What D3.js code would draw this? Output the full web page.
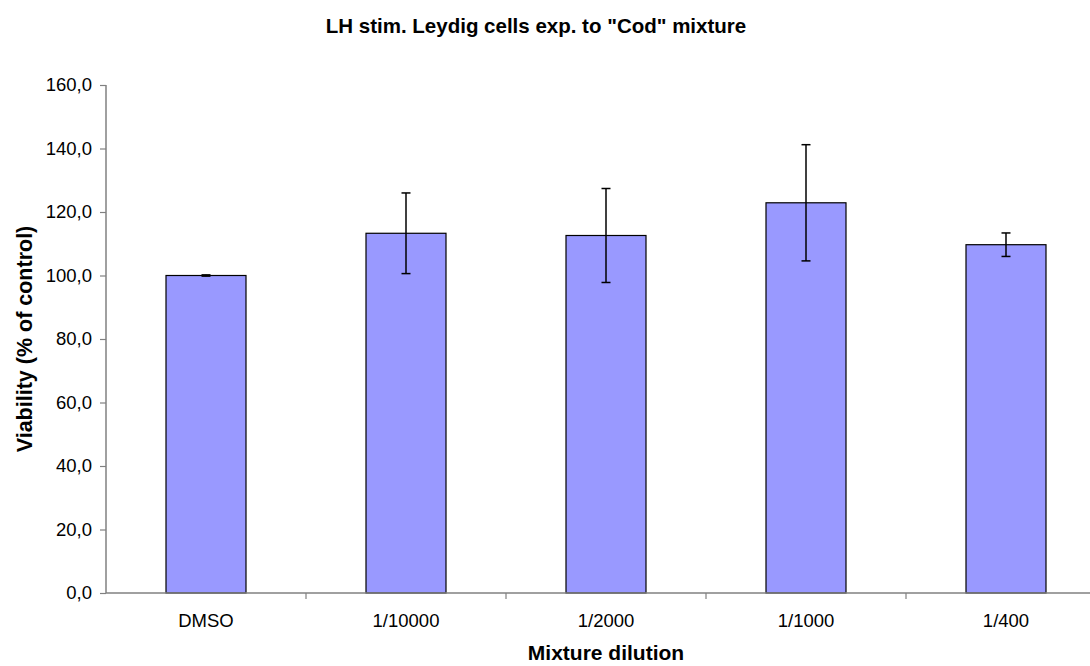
<!DOCTYPE html>
<html>
<head>
<meta charset="utf-8">
<script src="https://cdn.jsdelivr.net/npm/d3@7"></script>
<style>
  html, body { margin: 0; padding: 0; background: #fff; }
  svg { display: block; font-family: "Liberation Sans", Arial, sans-serif; }
</style>
</head>
<body>
<svg id="chart" width="1090" height="666"></svg>
<script>
const categories = ["DMSO", "1/10000", "1/2000", "1/1000", "1/400"];
const values = [100.0, 113.3, 112.6, 122.9, 109.7];
const errors = [0.2, 12.7, 14.8, 18.3, 3.7];
const yTicks = [0, 20, 40, 60, 80, 100, 120, 140, 160];
const title = 'LH stim. Leydig cells exp. to "Cod" mixture';
const xTitle = "Mixture dilution";
const yTitle = "Viability (% of control)";

(function () {
const svg = d3.select("#chart");
const pL = 106, pR = 1106, pT = 85, pB = 593;

const x = d3.scaleBand().domain(categories).range([pL, pR])
  .paddingInner(0.6).paddingOuter(0.3);
const y = d3.scaleLinear().domain([0, 160]).range([pB, pT]);
const fmt = v => d3.format(".1f")(v).replace(".", ",");

// Title
svg.append("text").attr("x", 536).attr("y", 33).attr("text-anchor", "middle")
  .attr("font-size", 20.5).attr("font-weight", "bold").attr("fill", "#000").text(title);

// Bars
svg.append("g").selectAll("rect").data(categories).join("rect")
  .attr("x", d => x(d)).attr("width", x.bandwidth())
  .attr("y", (d, i) => y(values[i])).attr("height", (d, i) => y(0) - y(values[i]))
  .attr("fill", "#9999ff").attr("stroke", "#000").attr("stroke-width", 1.2);

// Error bars
const eg = svg.append("g").attr("stroke", "#000").attr("stroke-width", 1.5);
categories.forEach((c, i) => {
  const cx = x(c) + x.bandwidth() / 2;
  const hi = y(values[i] + errors[i]), lo = y(values[i] - errors[i]);
  eg.append("line").attr("x1", cx).attr("x2", cx).attr("y1", hi).attr("y2", lo);
  eg.append("line").attr("x1", cx - 4.5).attr("x2", cx + 4.5).attr("y1", hi).attr("y2", hi);
  eg.append("line").attr("x1", cx - 4.5).attr("x2", cx + 4.5).attr("y1", lo).attr("y2", lo);
});

// Y axis
const yAxis = d3.axisLeft(y).tickValues(yTicks).tickFormat(fmt).tickSize(6).tickPadding(8);
const yg = svg.append("g").attr("transform", `translate(${pL},0)`).call(yAxis);
yg.select(".domain").attr("stroke", "#808080").attr("stroke-width", 1.5).attr("d", `M0,${pT}V${pB}`);
yg.selectAll(".tick line").attr("stroke", "#808080").attr("stroke-width", 1.2);
yg.selectAll(".tick text").attr("font-size", 18.5).attr("fill", "#000")
  .attr("font-family", "Liberation Sans, Arial, sans-serif");

// X axis
const xAxis = d3.axisBottom(x).tickSize(0).tickPadding(21);
const xg = svg.append("g").attr("transform", `translate(0,${pB})`).call(xAxis);
xg.select(".domain").attr("stroke", "#808080").attr("stroke-width", 1.5).attr("d", `M${pL},0H${pR}`);
xg.selectAll(".tick text").attr("font-size", 18.5).attr("fill", "#000")
  .attr("font-family", "Liberation Sans, Arial, sans-serif");
// boundary ticks
const bounds = categories.slice(1).map(c => x(c) + x.bandwidth() / 2 - x.step() / 2);
xg.append("g").selectAll("line").data(bounds).join("line")
  .attr("x1", d => d).attr("x2", d => d).attr("y1", 0).attr("y2", 6)
  .attr("stroke", "#808080").attr("stroke-width", 1.2);

// Axis titles
svg.append("text").attr("x", (pL + pR) / 2).attr("y", 660).attr("text-anchor", "middle")
  .attr("font-size", 21).attr("font-weight", "bold").attr("fill", "#000").text(xTitle);
svg.append("text").attr("transform", `translate(32,${(pT + pB) / 2}) rotate(-90)`)
  .attr("text-anchor", "middle").attr("font-size", 21.5).attr("font-weight", "bold")
  .attr("fill", "#000").text(yTitle);
})();
</script>
</body>
</html>
